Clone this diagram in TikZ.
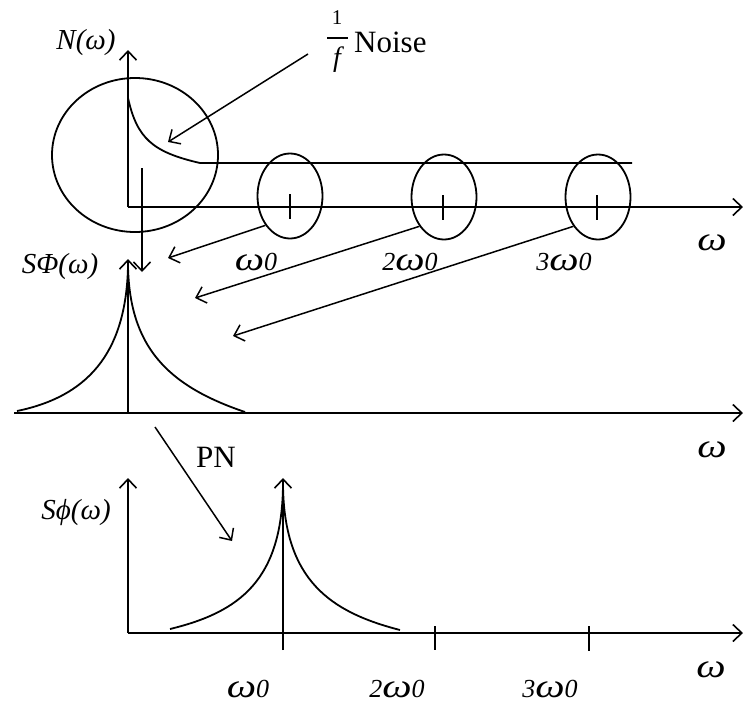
\documentclass[tikz,border=0pt]{standalone}
\usepackage{fontspec}
\setmainfont{Liberation Serif}
\usetikzlibrary{arrows.meta,shapes.geometric}
\newcommand{\wom}{{\fontsize{32}{34}\selectfont\scalebox{1.3}[1.05]{\itshape ω}}}
\begin{document}
\begin{tikzpicture}[x=1pt,y=-1pt,
  ln/.style={line width=1.8pt},
  arr/.style={line width=1.5pt,-{Straight Barb[length=9pt,width=17pt,line width=1.5pt]}},
  axarr/.style={line width=1.8pt,-{Straight Barb[length=9pt,width=17pt,line width=1.6pt]}},
  lbl/.style={font=\fontsize{29}{31}\selectfont\itshape, inner sep=0pt},
  wl/.style={font=\fontsize{26}{28}\selectfont\itshape, inner sep=0pt},
  txt/.style={font=\fontsize{31}{33}\selectfont, inner sep=0pt},
  oval/.style={draw, ln, ellipse, minimum width=65pt, minimum height=85pt, inner sep=0pt}]
\useasboundingbox (0,0) rectangle (743,704);
% ---------- top panel ----------
\coordinate (o1) at (128,207);
\coordinate (y1) at (128,50);
\coordinate (x1) at (743,207);
\draw[axarr] (o1) -- (y1);
\draw[axarr] (o1) -- (x1);
\node[lbl] (Nw) at (86,43) {N(ω)};
\draw[ln] (135,155) ellipse [x radius=83, y radius=77];
\node[oval] (e1) at (290,196) {};
\node[oval] (e2) at (444,197) {};
\node[oval] (e3) at (598,197) {};
\draw[ln] (290,194) -- (290,219);
\draw[ln] (443,195) -- (443,220);
\draw[ln] (597,195) -- (597,220);
\coordinate (c0) at (128,98);
\coordinate (c1) at (200,163);
\coordinate (c2) at (632,163);
\draw[ln] (c0) .. controls (137,138) and (152,152) .. (c1) -- (c2);
% 1/f Noise
\node[font=\fontsize{21}{21}\selectfont, inner sep=0pt, anchor=base] (one) at (337,24) {1};
\node[font=\fontsize{28}{28}\selectfont\itshape, inner sep=0pt, anchor=base] (eff) at (337,66) {f};
\coordinate (bar0) at (327,38);
\coordinate (bar1) at (348,38);
\draw[line width=1.3pt] (bar0) -- (bar1);
\node[txt, anchor=base west] (noise) at (354,52) {Noise};
\coordinate (na) at (308,54);
\coordinate (nb) at (168,142);
\draw[arr] (na) -- (nb);
\node[wl] (w1) at (712,243) {\wom};
\node[wl] (w01) at (256,262) {\wom0};
\node[wl] (w02) at (410,262) {2\wom0};
\node[wl] (w03) at (564,262) {3\wom0};
\coordinate (d0) at (142,168);
\coordinate (d1) at (142,272);
\draw[arr] (d0) -- (d1);
\coordinate (a1) at (168,258);
\coordinate (a2) at (195,298);
\coordinate (a3) at (233,336);
\draw[arr] (e1.-130) -- (a1);
\draw[arr] (e2.-130) -- (a2);
\draw[arr] (e3.-130) -- (a3);
% ---------- middle panel ----------
\coordinate (o2) at (128,413);
\coordinate (y2) at (128,259);
\coordinate (l2) at (14,413);
\coordinate (x2) at (743,413);
\draw[axarr] (o2) -- (y2);
\draw[axarr] (l2) -- (x2);
\node[lbl] (Sw) at (60,267) {SΦ(ω)};
\coordinate (p2) at (128,267);
\draw[ln] (p2) .. controls (126,345) and (95,395) .. (17,411);
\draw[ln] (p2) .. controls (130,345) and (165,385) .. (245,412);
\node[wl] (w2) at (712,450) {\wom};
% ---------- bottom panel ----------
\coordinate (pa) at (155,427);
\coordinate (pb) at (232,541);
\draw[arr] (pa) -- (pb);
\node[txt] (PN) at (216,457) {PN};
\coordinate (o3) at (128,633);
\coordinate (y3) at (128,478);
\coordinate (x3) at (743,633);
\draw[axarr] (o3) -- (y3);
\draw[axarr] (o3) -- (x3);
\node[lbl] (Sp) at (76,513) {Sϕ(ω)};
\coordinate (q0) at (283,650);
\coordinate (q1) at (283,478);
\draw[axarr] (q0) -- (q1);
\coordinate (p3) at (283,485);
\draw[ln] (p3) .. controls (282,580) and (240,612) .. (170,629);
\draw[ln] (p3) .. controls (284,580) and (330,612) .. (400,630);
\draw[ln] (435,626) -- (435,650);
\draw[ln] (589,626) -- (589,651);
\node[wl] (w3) at (711,670) {\wom};
\node[wl] (w31) at (248,689) {\wom0};
\node[wl] (w32) at (397,689) {2\wom0};
\node[wl] (w33) at (550,689) {3\wom0};
\end{tikzpicture}
\end{document}
